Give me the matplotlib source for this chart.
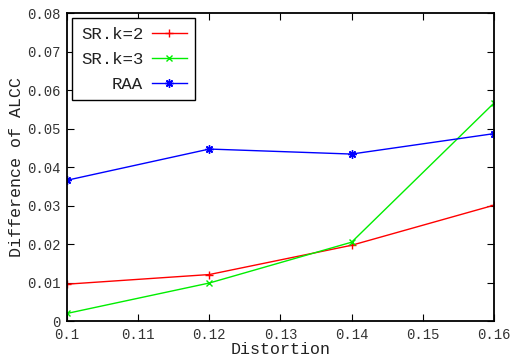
import numpy as np
import matplotlib
matplotlib.use('Agg')
import matplotlib.pyplot as plt

# 데이터
distortion = [0.10, 0.12, 0.14, 0.16]
sr_k2 = [0.0096, 0.0121, 0.0197, 0.0301]
sr_k3 = [0.0020, 0.0099, 0.0205, 0.0566]
raa = [0.0366, 0.0447, 0.0434, 0.0487]

x_ticks = [0.1, 0.11, 0.12, 0.13, 0.14, 0.15, 0.16]
y_ticks = [0, 0.01, 0.02, 0.03, 0.04, 0.05, 0.06, 0.07, 0.08]

plt.rcParams['font.family'] = ['Liberation Mono', 'DejaVu Sans Mono']

fig = plt.figure(figsize=(5.16, 3.56), dpi=100)
ax = fig.add_axes([0.130, 0.098, 0.827, 0.865])

ax.plot(distortion, sr_k2, color='#ff0000', lw=1, marker='+', ms=6, mew=1, label='SR.k=2')
ax.plot(distortion, sr_k3, color='#00ee00', lw=1, marker='x', ms=4, mew=1, label='SR.k=3')
ax.plot(distortion, raa, color='#0000ff', lw=1, marker=(8, 2, 0), ms=6, mew=1, label='RAA')

ax.set_xlim(0.1, 0.16)
ax.set_ylim(0, 0.08)
ax.set_xticks(x_ticks)
ax.set_xticklabels(['0.1', '0.11', '0.12', '0.13', '0.14', '0.15', '0.16'])
ax.set_yticks(y_ticks)
ax.set_yticklabels(['0', '0.01', '0.02', '0.03', '0.04', '0.05', '0.06', '0.07', '0.08'])
ax.tick_params(direction='in', top=True, right=True, labelsize=10, length=5,
               labelcolor='#333333')
ax.tick_params(axis='x', pad=5)
ax.tick_params(axis='y', pad=5)

for s in ax.spines.values():
    s.set_linewidth(1.3)

ax.set_xlabel('Distortion', fontsize=12, labelpad=0, color='#222222')
ax.set_ylabel('Difference of ALCC', fontsize=12, labelpad=2, color='#222222')

leg = ax.legend(loc='upper left', markerfirst=False, fontsize=12.5, fancybox=False,
                framealpha=1, edgecolor='black', handlelength=2.0, handletextpad=0.5,
                borderaxespad=0.3, labelspacing=0.55, borderpad=0.5)
leg.get_frame().set_linewidth(1)
for t in leg.get_texts():
    t.set_ha('right')
    t.set_color('#222222')

plt.savefig('out.png', dpi=100)
